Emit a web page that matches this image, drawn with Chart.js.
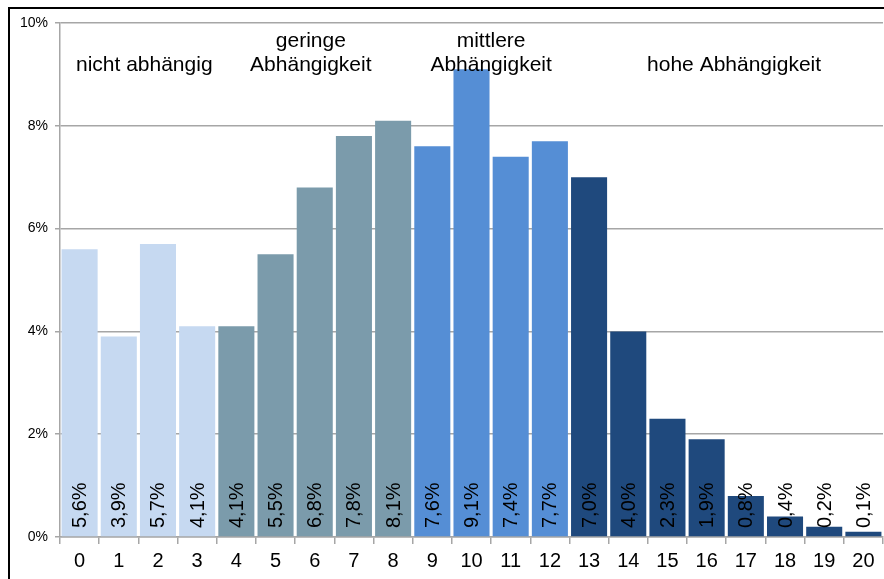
<!DOCTYPE html>
<html>
<head>
<meta charset="utf-8">
<script src="https://cdn.jsdelivr.net/npm/chart.js@4.4.1/dist/chart.umd.min.js"></script>
<style>
  html, body { margin: 0; padding: 0; background: #fff; }
  #wrap { position: relative; width: 884px; height: 579px; }
</style>
</head>
<body>
<div id="wrap"><canvas id="chart"></canvas></div>
<script>
// Kategorien (Punktwerte 0-20) und Anteile in %
const categories = ['0','1','2','3','4','5','6','7','8','9','10','11','12','13','14','15','16','17','18','19','20'];
const shares = [5.6, 3.9, 5.7, 4.1, 4.1, 5.5, 6.8, 7.8, 8.1, 7.6, 9.1, 7.4, 7.7, 7.0, 4.0, 2.3, 1.9, 0.8, 0.4, 0.2, 0.1];
const yTicks = [0, 2, 4, 6, 8, 10];

// Gruppen: Name, erste und letzte Kategorie
const groupNames = [['nicht abhängig'], ['geringe', 'Abhängigkeit'], ['mittlere', 'Abhängigkeit'], ['hohe Abhängigkeit']];
const groupFirst = [0, 4, 9, 13];
const groupLast = [3, 8, 12, 20];

const groupColors = ['#c6d9f1', '#7b9bab', '#558ed5', '#1f497d'];
const labelShift = [0.15, -0.1, 0, 0.2]; // Textversatz in Kategorien

const barColors = categories.map((c, i) => {
    const g = groupFirst.findIndex((f, k) => i >= f && i <= groupLast[k]);
    return groupColors[g];
});

const FONT = '"Liberation Sans", Arial, sans-serif';

// Rahmen oben und links
const framePlugin = {
    id: 'frame',
    afterDraw(chart) {
        const c = chart.ctx;
        c.save();
        c.strokeStyle = '#000';
        c.lineWidth = 2;
        c.beginPath();
        c.moveTo(9, 579);
        c.lineTo(9, 8);
        c.lineTo(884, 8);
        c.stroke();
        c.restore();
    }
};

// Werte senkrecht in den Balken
const valueLabels = {
    id: 'valueLabels',
    afterDatasetsDraw(chart) {
        const c = chart.ctx;
        const meta = chart.getDatasetMeta(0);
        const base = chart.scales.y.getPixelForValue(0);
        c.save();
        c.fillStyle = '#000';
        c.font = '20px ' + FONT;
        c.textAlign = 'left';
        c.textBaseline = 'middle';
        meta.data.forEach((bar, i) => {
            c.save();
            c.translate(bar.x + 1, base - 9);
            c.rotate(-Math.PI / 2);
            c.fillText(shares[i].toFixed(1).replace('.', ',') + '%', 0, 0);
            c.restore();
        });
        c.restore();
    }
};

// Gruppenüberschriften
const groupLabels = {
    id: 'groupLabels',
    afterDraw(chart) {
        const c = chart.ctx;
        const x = chart.scales.x;
        c.save();
        c.fillStyle = '#000';
        c.font = '21px ' + FONT;
        c.textAlign = 'center';
        c.textBaseline = 'alphabetic';
        groupNames.forEach((lines, g) => {
            const mid = (groupFirst[g] + groupLast[g]) / 2 + labelShift[g];
            const px = x.getPixelForValue(mid);
            const y0 = 71 - (lines.length - 1) * 24;
            lines.forEach((t, k) => c.fillText(t, px, y0 + k * 24));
        });
        c.restore();
    }
};

new Chart(document.getElementById('chart'), {
    type: 'bar',
    data: {
        labels: categories,
        datasets: [{
            data: shares,
            backgroundColor: barColors,
            borderWidth: 0,
            barPercentage: 0.92,
            categoryPercentage: 1.0
        }]
    },
    options: {
        responsive: true,
        maintainAspectRatio: false,
        animation: false,
        layout: { padding: { top: 23, right: 1, left: 0, bottom: 0 } },
        plugins: {
            legend: { display: false },
            tooltip: { enabled: false }
        },
        scales: {
            x: {
                grid: {
                    drawOnChartArea: false,
                    color: '#a6a6a6',
                    lineWidth: 1.5,
                    tickLength: 7
                },
                border: { color: '#a6a6a6', width: 1.5 },
                ticks: {
                    color: '#000',
                    font: { family: FONT, size: 20 },
                    padding: 5,
                    maxRotation: 0
                },
                afterFit(s) { s.height = 42; }
            },
            y: {
                min: 0,
                max: 10,
                afterBuildTicks(s) { s.ticks = yTicks.map(v => ({ value: v })); },
                grid: {
                    color: '#a6a6a6',
                    lineWidth: 1.5,
                    tickLength: 5
                },
                border: { color: '#a6a6a6', width: 1.5 },
                ticks: {
                    color: '#000',
                    font: { family: FONT, size: 14 },
                    padding: 7,
                    callback: v => v + '%'
                },
                afterFit(s) { s.width = 60; }
            }
        }
    },
    plugins: [framePlugin, valueLabels, groupLabels]
});
</script>
</body>
</html>
